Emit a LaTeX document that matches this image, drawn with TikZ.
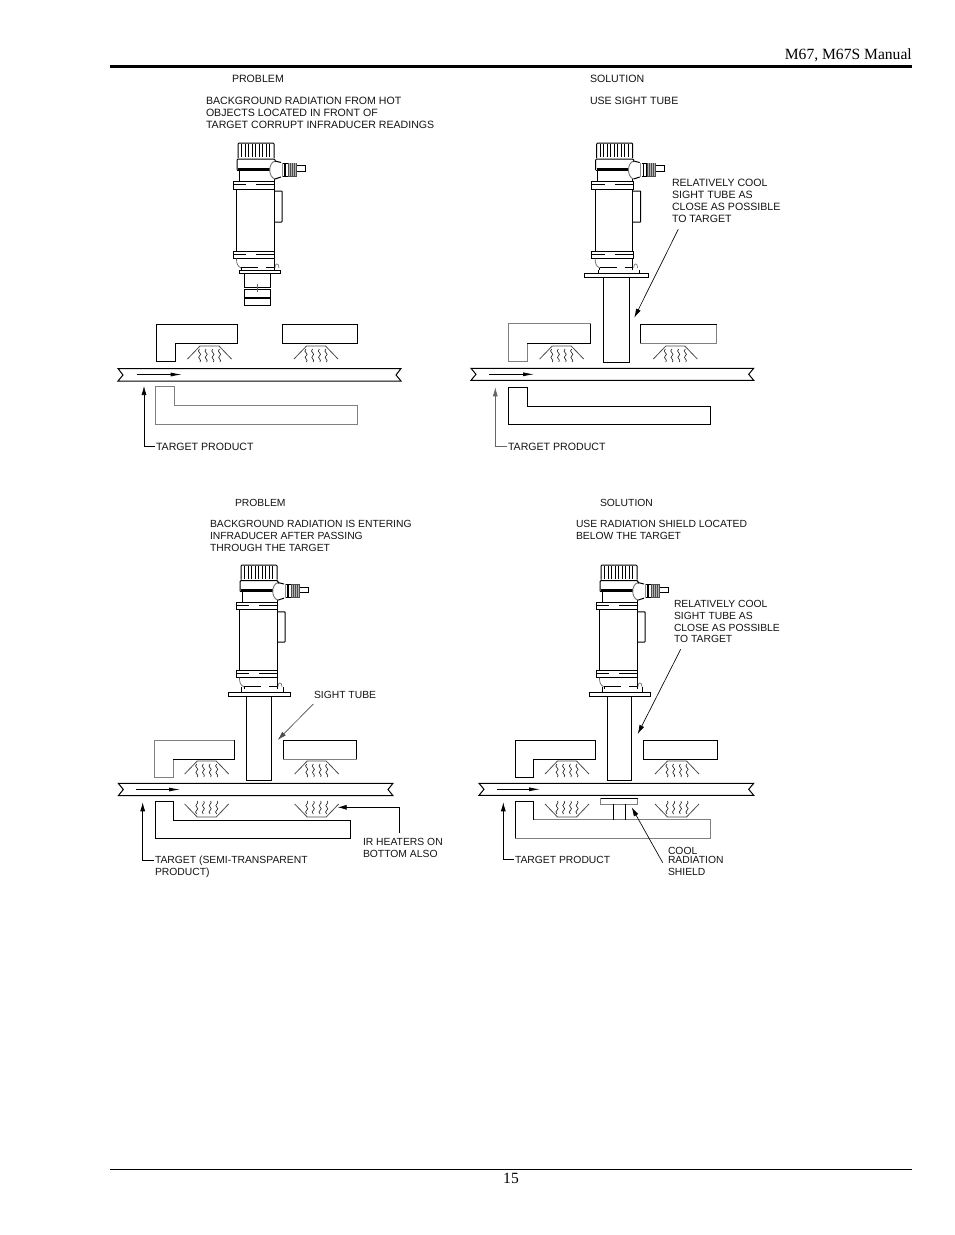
\documentclass[tikz,border=0pt]{standalone}
\usepackage{fontspec}
\setmainfont{Liberation Sans}
\newfontfamily\serifm{Liberation Serif}
\usetikzlibrary{arrows.meta}
\tikzset{
  ln/.style={draw=black,line width=1pt,line join=miter},
  gl/.style={draw=black!50,line width=1pt},
  tip/.style={-{Latex[length=9pt,width=5pt]},draw=black,line width=0.65pt},
  flowtip/.style={-{Latex[length=11pt,width=4pt]},draw=black,line width=0.8pt},
  lab/.style={anchor=base west,inner sep=0pt,outer sep=1pt,font=\fontsize{10.6}{12}\selectfont,text=black!92},
  labb/.style={lab,font=\fontsize{10.35}{12}\selectfont},
  head/.style={anchor=base,inner sep=0pt,font=\serifm\fontsize{15.6}{18}\selectfont}
}
% instrument: x, y, yscale
\newcommand{\instrument}[3]{%
\begin{scope}[shift={(#1,#2)},yscale=#3]
  % cap
  \draw[ln,rounded corners=1pt] (0,15)--(0,0)--(36,0)--(36,15);
  \foreach \r in {3.5,7,10.5,14,17.5,21,24.5,28,31.5}{\draw[ln,line width=.8pt] (\r,1)--(\r,14);}
  % collar
  \draw[ln,rounded corners=1pt] (-1,27)--(-1,16)--(37,16)--(37,19);
  \draw[ln] (-1,27)--(32,27);
  \draw[line width=2pt] (0,26)--(32,26);
  % neck
  \draw[ln] (1,27)--(1,38);
  \draw[ln] (36,36)--(36,38);
  % dome
  \draw[draw=black!55,line width=.9pt] (37,18) .. controls (30,20) and (30,34) .. (37,36);
  \draw[ln] (37,18)--(43,19.5);
  \draw[ln] (37,36)--(43,34);
  \draw[draw=black!45,line width=.8pt] (44,19.5)--(44,34);
  % connector
  \draw[ln] (45,20)--(50,20)--(50,33)--(45,33);
  \draw[line width=1.3pt] (47,20.5)--(47,32.5);
  \fill[black!70] (50,19.5) rectangle (59,33.5);
  \foreach \r in {51.5,53.5,55.5,57.5}{\draw[white!70!black,line width=.5pt] (\r,20)--(\r,33);}
  \draw[ln] (59,22.7)--(67.7,22.7)--(67.7,28.7)--(59,28.7);
  % upper flange
  \draw[ln] (-5,38) rectangle (36.5,46);
  \draw[ln] (-5,41.5)--(8,41.5) (18,41.5)--(36.5,41.5);
  % body
  \draw[ln] (-1.5,46)--(-1.5,108);
  \draw[ln] (36,46)--(36,108);
  % side box
  \draw[ln,rounded corners=.5pt] (36,48)--(44,48)--(44,79)--(36,79);
  % lower flange
  \draw[ln] (-5,108) rectangle (36.5,115.5);
  \draw[ln] (-5,111.5)--(8,111.5) (18,111.5)--(36.5,111.5);
  % base
  \draw[draw=black!60,line width=.7pt] (-1.5,115.5) .. controls (-1.5,120) and (-1,123) .. (3,125);
  \draw[ln] (3,125)--(3,127);
  \draw[ln] (36,115.5)--(36,127);
  \draw[draw=black!60,line width=.6pt] (37,125) .. controls (36.5,120) and (41,119) .. (41,125);
  \draw[line width=.7pt] (3,124.5)--(20,124.5) (28,124.5)--(36,124.5);
\end{scope}}
% heater
\newcommand{\heater}[3]{%
\begin{scope}[shift={(#1,#2)},yscale=#3]
  \draw[draw=black!70,line width=.8pt] (-22,13)--(-9.5,0)--(9.5,0)--(22,13);
  \foreach \r in {-10,-3.4,3.4,10}{
    \draw[draw=black!85,line width=.65pt] (\r,3) .. controls (\r-4,6) and (\r+4,7.5) .. (\r,10) .. controls (\r-3,12) and (\r+3,13.5) .. (\r+.5,16);
  }
\end{scope}}
\begin{document}
\begin{tikzpicture}[x=1pt,y=-1pt]
\useasboundingbox (0,0) rectangle (954,1235);
\fill[white] (0,0) rectangle (954,1235);
% header and footer
\node[head,anchor=base east] (hdr) at (912,59) {M67, M67S Manual};
\draw[line width=3pt] (110,66.5)--(912,66.5);
\draw[line width=.7pt] (110,1169.5)--(912,1169.5);
\node[head] (pg) at (511,1183) {15};

%%%%% PANEL 1
\node[lab] (p1a) at (231,82) {PROBLEM};
\node[lab] (p1b) at (205,104) {BACKGROUND RADIATION FROM HOT};
\node[lab] (p1c) at (205,116) {OBJECTS LOCATED IN FRONT OF};
\node[lab] (p1d) at (205,128) {TARGET CORRUPT INFRADUCER READINGS};
\instrument{238}{143}{1}
\draw[ln] (239,270) rectangle (280,273);
\draw[ln] (244,273) rectangle (270,287);
\draw[ln] (244,289) rectangle (270,305);
\draw[line width=2pt] (244,298)--(270,298);
\draw[line width=.8pt,black!60] (257,284)--(257,292);
\draw[ln] (237.7,343.3)--(175,343.3)--(175,361)--(156,361)--(156,324.3)--(237.7,324.3)--cycle;
\draw[ln] (282.3,324.3) rectangle (357.7,343.3);
\heater{209.5}{346}{1}
\heater{316}{346}{1}
\draw[ln] (118,368.5)--(401,368.5)--(396,375)--(401,381)--(118,381)--(123,375)--cycle;
\coordinate (f1a) at (136.7,374.5); \coordinate (f1b) at (181.7,374.5);
\draw[flowtip] (f1a)--(f1b);
\draw[gl] (357.7,405.7)--(174.3,405.7)--(174.3,386.7)--(155.7,386.7)--(155.7,424)--(357.7,424)--cycle;
\node[lab] (t1) at (155,450) {TARGET PRODUCT};
\coordinate (t1tip) at (144,386);
\draw[tip] (t1.west) -| (t1tip);

%%%%% PANEL 2
\node[lab] (p2a) at (589,82) {SOLUTION};
\node[lab] (p2b) at (589,104) {USE SIGHT TUBE};
\node[lab] (p2c) at (671,186) {RELATIVELY COOL};
\node[lab] (p2d) at (671,198) {SIGHT TUBE AS};
\node[lab] (p2e) at (671,210) {CLOSE AS POSSIBLE};
\node[lab] (p2f) at (671,222) {TO TARGET};
\instrument{596.7}{143}{1}
\draw[ln] (598,270)--(598,273) (639,270)--(639,273);
\draw[ln] (584,273) rectangle (648,277);
\draw[ln] (603,277)--(603,362)--(629,362)--(629,277);
\draw[gl] (590.3,343)--(527.3,343)--(527.3,361.7)--(508.3,361.7)--(508.3,323.7)--(590.3,323.7)--cycle;
\draw[ln] (527.3,343)--(590.3,343)--(590.3,323.7);
\draw[gl] (640.3,324.3) rectangle (716.7,343);
\draw[ln] (640.3,343)--(640.3,324.3)--(716.7,324.3);
\heater{561.7}{346}{1}
\heater{675.3}{346}{1}
\draw[ln] (471,368.3)--(753.7,368.3)--(748.7,374.3)--(753.7,380.3)--(471,380.3)--(476,374.3)--cycle;
\coordinate (f2a) at (489,374.3); \coordinate (f2b) at (534,374.3);
\draw[flowtip] (f2a)--(f2b);
\draw[ln] (710.7,406.3)--(527.3,406.3)--(527.3,387.3)--(508.3,387.3)--(508.3,424.3)--(710.7,424.3)--cycle;
\node[lab] (t2) at (507,450) {TARGET PRODUCT};
\coordinate (t2tip) at (495.3,387.3);
\draw[tip,draw=black!60] (t2.west) -| (t2tip);
\coordinate (s2a) at (678.3,229.3); \coordinate (s2b) at (634.3,317.7);
\draw[tip] (s2a)--(s2b);

%%%%% PANEL 3
\node[labb] (p3a) at (234,506) {PROBLEM};
\node[labb] (p3b) at (209,527) {BACKGROUND RADIATION IS ENTERING};
\node[labb] (p3c) at (209,539) {INFRADUCER AFTER PASSING};
\node[labb] (p3d) at (209,551) {THROUGH THE TARGET};
\node[labb] (p3e) at (313,698) {SIGHT TUBE};
\instrument{241}{565}{.975}
\draw[ln] (241.5,687)--(241.5,692) (283,687)--(283,692);
\draw[ln] (228,692) rectangle (290,696);
\draw[ln] (246.7,696)--(246.7,780)--(271.7,780)--(271.7,696);
\draw[gl] (234.3,759.3)--(173.3,759.3)--(173.3,777)--(154.3,777)--(154.3,740.3)--(234.3,740.3);
\draw[ln] (234.3,740.3)--(234.3,759.3)--(173.3,759.3);
\draw[ln] (283.3,759.3)--(283.3,740.3)--(356.7,740.3)--(356.7,759.3);
\draw[gl] (283.3,759.3)--(356.7,759.3);
\heater{206.7}{761}{1}
\heater{316.7}{761}{1}
\heater{206.7}{817}{-1}
\heater{316.7}{817}{-1}
\draw[ln] (118.3,783.3)--(393,783.3)--(388,789.5)--(393,795.7)--(118.3,795.7)--(123.3,789.5)--cycle;
\coordinate (f3a) at (136,789.5); \coordinate (f3b) at (180,789.5);
\draw[flowtip] (f3a)--(f3b);
\draw[ln] (350.7,820.3)--(173.3,820.3)--(173.3,801.7)--(155.3,801.7)--(155.3,838.3)--(350.7,838.3)--cycle;
\node[labb] (t3) at (154,863) {TARGET (SEMI-TRANSPARENT};
\node[labb] (t3b) at (154,875) {PRODUCT)};
\coordinate (t3tip) at (142.7,802.3);
\draw[tip] (t3.west) -| (t3tip);
\node[labb] (ir1) at (362,845) {IR HEATERS ON};
\node[labb] (ir2) at (362,857) {BOTTOM ALSO};
\coordinate (ira) at (399.3,833.3); \coordinate (irb) at (337.7,807.3);
\draw[tip] (ira) |- (irb);
\coordinate (s3a) at (313.3,704); \coordinate (s3b) at (277.7,740);
\draw[tip,draw=black!70] (s3a)--(s3b);

%%%%% PANEL 4
\node[labb] (p4a) at (599,506) {SOLUTION};
\node[labb] (p4b) at (575,527) {USE RADIATION SHIELD LOCATED};
\node[labb] (p4c) at (575,539) {BELOW THE TARGET};
\node[labb] (p4d) at (673,607) {RELATIVELY COOL};
\node[labb] (p4e) at (673,619) {SIGHT TUBE AS};
\node[labb] (p4f) at (673,631) {CLOSE AS POSSIBLE};
\node[labb] (p4g) at (673,642) {TO TARGET};
\instrument{601}{565}{.975}
\draw[ln] (602,687)--(602,692) (642,687)--(642,692);
\draw[ln] (589.3,692) rectangle (650.7,696);
\draw[ln] (607.3,696)--(607.3,780)--(631.7,780)--(631.7,696);
\draw[ln] (595.3,759.3)--(533.3,759.3)--(533.3,777.3)--(515.3,777.3)--(515.3,740.3)--(595.3,740.3)--cycle;
\draw[ln] (643.3,740.3) rectangle (717.7,759.3);
\heater{567}{761}{1}
\heater{677}{761}{1}
\heater{567}{817}{-1}
\heater{677}{817}{-1}
\draw[ln] (479,783.3)--(753.7,783.3)--(748.7,789.3)--(753.7,795.3)--(479,795.3)--(484,789.3)--cycle;
\coordinate (f4a) at (497,789.3); \coordinate (f4b) at (540,789.3);
\draw[flowtip] (f4a)--(f4b);
\draw[gl] (710.7,819.7)--(533.3,819.7)--(533.3,801.7)--(515.3,801.7)--(515.3,838.3)--(710.7,838.3)--cycle;
\draw[ln] (515.3,838.3)--(515.3,801.7)--(533.3,801.7)--(533.3,819.7);
\draw[gl] (600.7,798.3) rectangle (637.7,804.3);
\draw[ln] (600.7,798.3)--(637.7,798.3);
\draw[ln] (613.3,804.3)--(613.3,819.7) (625.3,804.3)--(625.3,819.7);
\node[labb] (t4) at (514,863) {TARGET PRODUCT};
\coordinate (t4tip) at (503.3,802.3);
\draw[tip] (t4.west) -| (t4tip);
\node[labb] (c1) at (667,854) {COOL};
\node[labb] (c2) at (667,863) {RADIATION};
\node[labb] (c3) at (667,875) {SHIELD};
\coordinate (s4a) at (662.7,862.7); \coordinate (s4b) at (631.7,807.3);
\draw[tip] (s4a)--(s4b);
\coordinate (s5a) at (680.7,649.3); \coordinate (s5b) at (637.7,734);
\draw[tip] (s5a)--(s5b);
\end{tikzpicture}
\end{document}
